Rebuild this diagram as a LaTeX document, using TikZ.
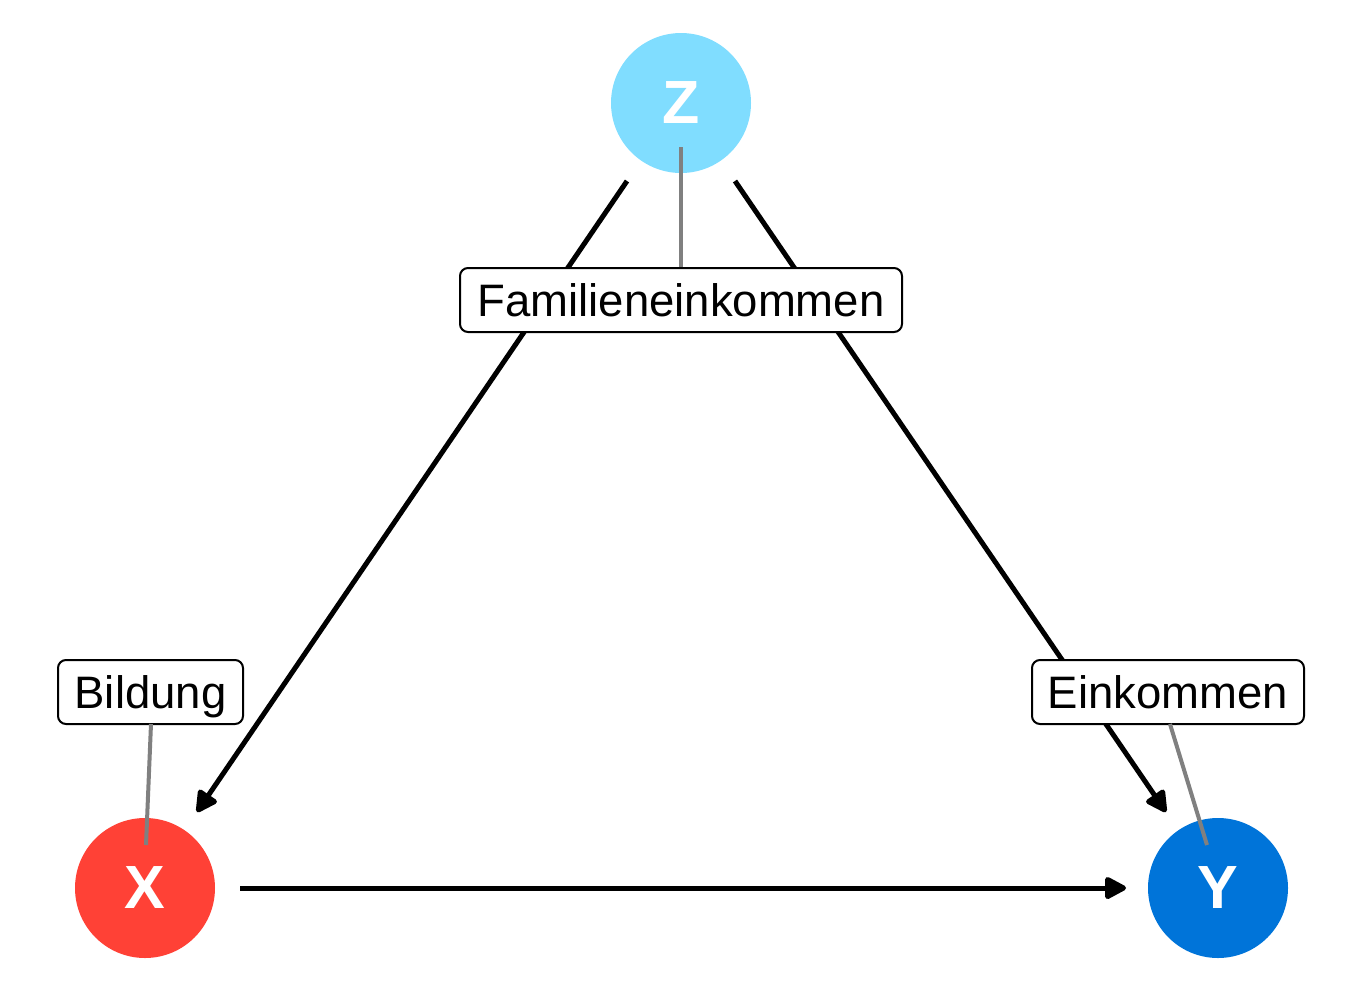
\documentclass[tikz,border=0pt]{standalone}
\usepackage{fontspec}
\setmainfont{Liberation Sans}
\usetikzlibrary{arrows.meta}
\definecolor{zcol}{HTML}{80DDFF}
\definecolor{xcol}{HTML}{FF4136}
\definecolor{ycol}{HTML}{0074D9}
\tikzset{
  var/.style={circle, minimum size=140pt, inner sep=0pt, text=white, font=\fontsize{61}{63}\selectfont\bfseries},
  lab/.style={draw=black, line width=2pt, fill=white, rounded corners=8pt, inner sep=0pt, minimum height=64pt, text height=33pt, text depth=0pt, font=\fontsize{45.5}{50}\selectfont},
  edge/.style={line width=5pt, -{Triangle[length=24pt,width=24pt,round]}},
  tie/.style={draw=gray, line width=4pt},
}
\begin{document}
\begin{tikzpicture}[x=1pt,y=-1pt]
\useasboundingbox (0,0) rectangle (1350,1005);
\node[var, fill=zcol] (z) at (681,103) {Z};
\node[var, fill=xcol] (x) at (145,888) {X};
\node[var, fill=ycol] (y) at (1218,888) {Y};
\coordinate (zs1) at (627,181);
\coordinate (xe) at (197,812);
\coordinate (zs2) at (735,181);
\coordinate (ye1) at (1166,812);
\coordinate (xs) at (240,888);
\coordinate (ye2) at (1126,888);
\draw[edge] (zs1) -- (xe);
\draw[edge] (zs2) -- (ye1);
\draw[edge] (xs) -- (ye2);
\node[lab, minimum width=442pt] (lz) at (681,300) {Familieneinkommen};
\node[lab, minimum width=185pt] (lx) at (150.5,692) {Bildung};
\node[lab, minimum width=272pt] (ly) at (1168,692) {Einkommen};
\coordinate (tz) at (681,147);
\coordinate (tx) at (146,845);
\coordinate (ty) at (1207,845);
\draw[tie] (lz.north) -- (tz);
\draw[tie] (151,724) -- (tx);
\draw[tie] (1170,724) -- (ty);
\end{tikzpicture}
\end{document}
